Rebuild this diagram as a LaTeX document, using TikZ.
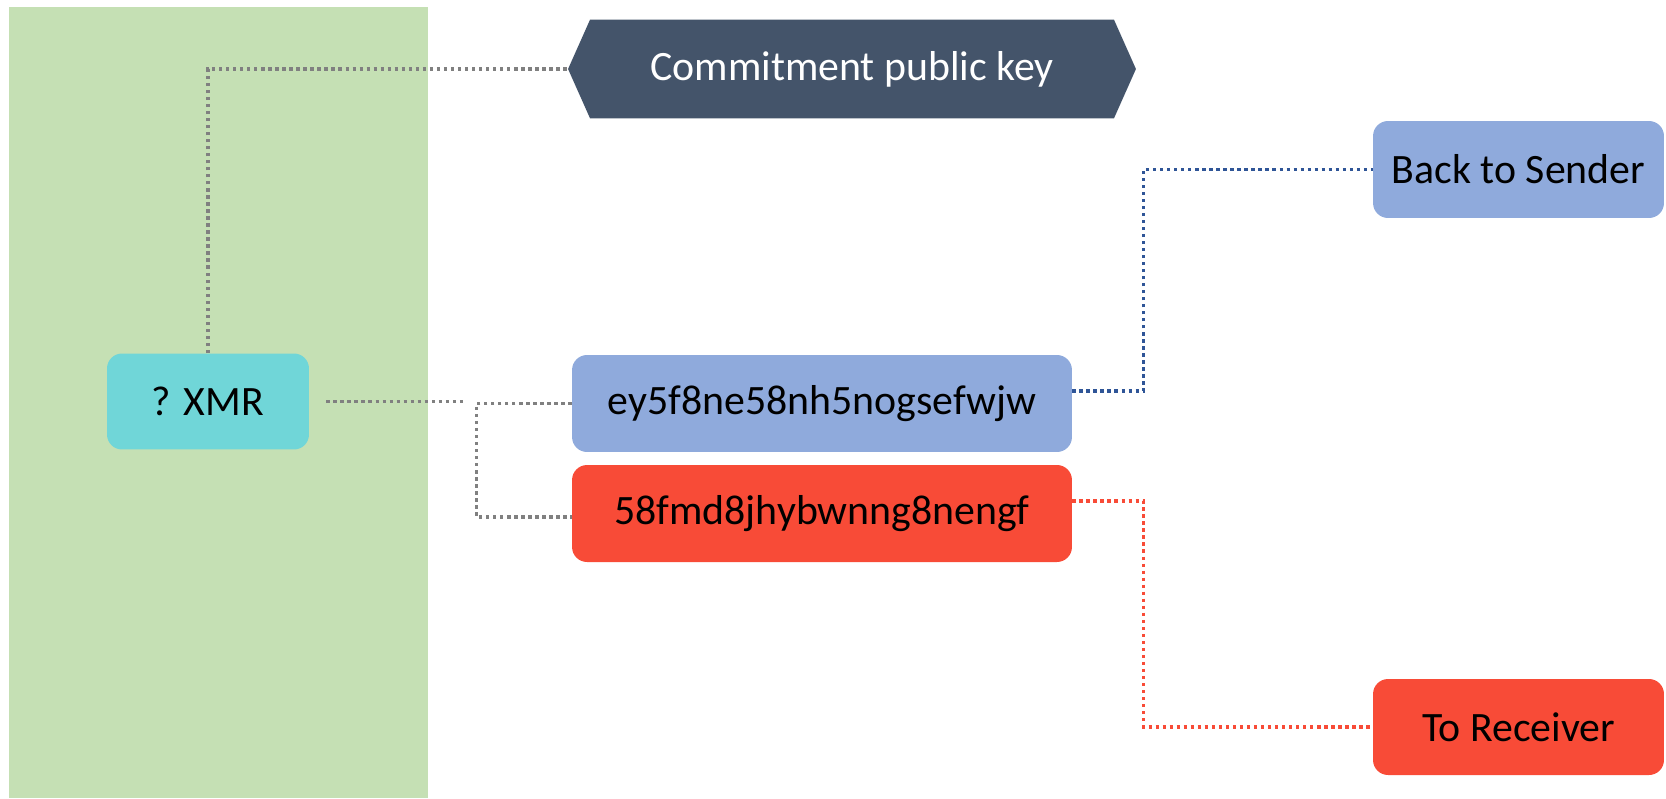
\documentclass[tikz,border=0pt]{standalone}
\usepackage{fontspec}
\setmainfont{Carlito}
\usepackage{xcolor}
\usetikzlibrary{positioning,calc,shapes.symbols}

\definecolor{panelgreen}{HTML}{C5E0B4}
\definecolor{xmrcyan}{HTML}{70D6D8}
\definecolor{addrblue}{HTML}{8FAADC}
\definecolor{addrred}{HTML}{F84B37}
\definecolor{slate}{HTML}{44546A}
\definecolor{linegrey}{HTML}{808080}
\definecolor{lineblue}{HTML}{2F5597}

\begin{document}
\begin{tikzpicture}[
    x=0.02cm, y=-0.02cm, font=\fontsize{23.8}{28}\selectfont,
    box/.style={fill=#1, minimum height=1.94cm, inner sep=0pt, rounded corners=0.3cm, text=black},
    banner/.style={signal, signal to=west and east, signal pointer angle=132, fill=#1, text=white,
                   minimum width=11.36cm, minimum height=1.98cm, inner sep=0pt},
    link/.style={draw=#1, line width=1.9pt, dash pattern=on 1.9pt off 2.1pt}
]

% ===== FRAME =====
\path[use as bounding box] (0,0) rectangle (1666,798);

% ===== LEFT PANEL =====
\node[fill=panelgreen, minimum width=8.38cm, minimum height=15.82cm, inner sep=0pt] (panel) at (218.5,402.5) {};
\node[box=xmrcyan, minimum width=4.04cm, minimum height=1.92cm] (xmr) at (208,401.5) {? XMR};

% ===== KEY + ADDRESSES =====
\node[banner=slate] (key) at (852,69) {Commitment public key};
\node[box=addrblue, minimum width=10cm] (addrA) at (822,403.5) {ey5f8ne58nh5nogsefwjw};
\node[box=addrred,  minimum width=10cm] (addrB) at (822,513.5) {58fmd8jhybwnng8nengf};

% ===== OUTPUTS =====
\node[box=addrblue, minimum width=5.82cm] (sender)   at (1518.5,169.5) {Back to Sender};
\node[box=addrred,  minimum width=5.82cm, minimum height=1.92cm] (receiver) at (1518.5,727) {To Receiver};

% ===== LINKS =====
\coordinate (split) at ([xshift=-1.9cm]addrA.west);
\draw[link=linegrey] (xmr.north) |- (key.west);
\draw[link=linegrey, shorten <=0.34cm, shorten >=0.28cm] (xmr.east) -- (xmr.east -| split);
\draw[link=linegrey] (addrA.west) -| (split) |- ([yshift=-0.07cm]addrB.west);

\draw[link=lineblue] ([yshift=0.25cm]addrA.east) -- ++(71,0) |- (sender.west);
\draw[link=addrred]  ([yshift=0.25cm]addrB.east) -- ++(71,0) |- (receiver.west);

\end{tikzpicture}
\end{document}
